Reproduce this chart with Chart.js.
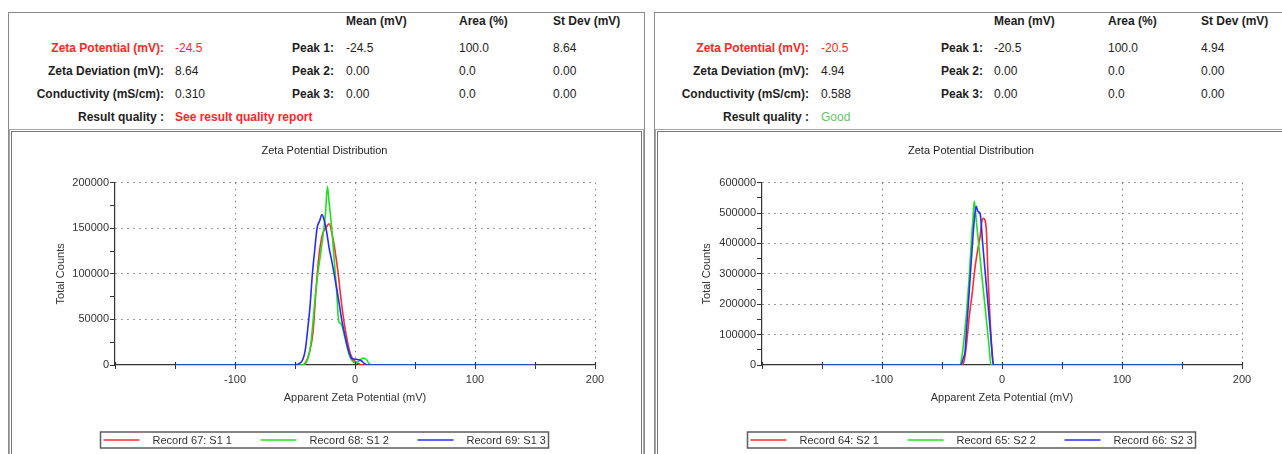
<!DOCTYPE html>
<html>
<head>
<meta charset="utf-8">
<title>Zeta Potential Distribution</title>
<script src="https://cdn.jsdelivr.net/npm/chart.js@4.4.1/dist/chart.umd.min.js"></script>
<style>
  html, body { margin: 0; padding: 0; background: #fff; width: 1282px; height: 454px; overflow: hidden;
               font-family: "Liberation Sans", Arial, sans-serif; }
  .panel { position: absolute; top: 12px; height: 470px; border: 1px solid #8a8a8a; box-sizing: border-box; }
  .frame { position: absolute; top: 129px; height: 360px; border: 1px solid #a6a6a6; box-sizing: border-box;
           box-shadow: inset 0 0 0 1px #fff, inset 0 0 0 2px #777; }
  .t { position: absolute; white-space: nowrap; font-size: 12px; line-height: 14px; color: #1e1e1e; }
  .b { font-weight: bold; }
  .red { color: #ff2626; }
  .good { color: #62c862; }
  canvas { position: absolute; }
</style>
</head>
<body>
<div class="panel" style="left:8px;width:637px;"></div>
<div class="panel" style="left:654px;width:700px;"></div>
<div class="frame" style="left:9px;width:635px;"></div>
<div class="frame" style="left:655px;width:700px;"></div>
<canvas id="c1" width="626" height="316" style="left:14px;top:136px;"></canvas>
<canvas id="c2" width="620" height="316" style="left:660px;top:136px;"></canvas>
<script>
// ---- result summary text ----
const summaryLabels = ['Zeta Potential (mV):', 'Zeta Deviation (mV):', 'Conductivity (mS/cm):', 'Result quality :'];
const peakLabels = ['Peak 1:', 'Peak 2:', 'Peak 3:'];
const columnHeads = ['Mean (mV)', 'Area (%)', 'St Dev (mV)'];

const s1Summary = ['-24.5', '8.64', '0.310', 'See result quality report'];
const s1PeakMean = ['-24.5', '0.00', '0.00'];
const s1PeakArea = ['100.0', '0.0', '0.0'];
const s1PeakSd = ['8.64', '0.00', '0.00'];

const s2Summary = ['-20.5', '4.94', '0.588', 'Good'];
const s2PeakMean = ['-20.5', '0.00', '0.00'];
const s2PeakArea = ['100.0', '0.0', '0.0'];
const s2PeakSd = ['4.94', '0.00', '0.00'];

// ---- sample S1 distributions (mV, total counts) ----
const s1Labels = ['Record 67: S1 1', 'Record 68: S1 2', 'Record 69: S1 3'];
const s1RedX = [-150, -44, -41, -38, -35, -32.5, -30, -27, -24, -21.5, -19, -16.5, -14, -12.5, -10, -8, -6, -4, -2, 0, 3, 6, 150];
const s1RedY = [0, 0, 3000, 14000, 36000, 82000, 120000, 144000, 151000, 155000, 143000, 124000, 100000, 82000, 55000, 38000, 24000, 13000, 7000, 4000, 1500, 0, 0];
const s1GreenX = [-150, -44, -40.5, -37.5, -35.5, -33.5, -31, -29, -26.5, -24.5, -23, -21.5, -19.5, -17.5, -15.5, -13.5, -11.5, -9.5, -7, -4.5, -2, 0, 2, 4, 7, 9.5, 11.5, 14, 150];
const s1GreenY = [0, 0, 3000, 16500, 40000, 70000, 100000, 119000, 144000, 168000, 196000, 177000, 152000, 118000, 85000, 48000, 45000, 36000, 22000, 10000, 4000, 2500, 3000, 5500, 7500, 6000, 2000, 0, 0];
const s1BlueX = [-150, -50, -46, -43.5, -41.5, -39.5, -37.5, -35.5, -33.5, -31.5, -29.5, -27.5, -25.5, -23.5, -21.5, -19.5, -17, -15, -13, -11, -9, -7, -5, -3, -1, 2, 5, 7.5, 10, 150];
const s1BlueY = [0, 0, 2000, 6000, 16000, 38000, 64000, 100000, 127000, 151000, 158000, 165000, 158000, 145000, 128000, 115000, 97000, 82000, 66000, 49000, 36000, 24000, 14000, 7500, 6500, 6000, 5000, 2000, 0, 0];

// ---- sample S2 distributions (mV, total counts) ----
const s2Labels = ['Record 64: S2 1', 'Record 65: S2 2', 'Record 66: S2 3'];
const s2RedX = [-150, -33, -31, -29, -27, -25, -22.5, -20, -18.3, -16.9, -15.6, -14, -13, -11.5, -10, -8.5, -7, 150];
const s2RedY = [0, 0, 25000, 90000, 170000, 230000, 320000, 385000, 422000, 470000, 483000, 475000, 440000, 280000, 155000, 55000, 0, 0];
const s2GreenX = [-150, -35, -33, -31, -29, -27, -25.3, -24, -23.1, -21, -19, -17, -15, -13, -11, -9.2, 150];
const s2GreenY = [0, 0, 40000, 110000, 200000, 310000, 422000, 490000, 540000, 458000, 380000, 302000, 225000, 148000, 70000, 0, 0];
const s2BlueX = [-150, -34.2, -33, -32, -30.8, -29.5, -28, -26, -24.2, -23, -21.5, -20, -18.3, -16, -14, -12, -10, -8.5, -7.2, 150];
const s2BlueY = [0, 0, 12000, 25000, 44000, 120000, 203000, 320000, 422000, 480000, 522000, 505000, 499000, 395000, 305000, 215000, 125000, 50000, 0, 0];

// ---- axis settings ----
const xMin = -200, xMax = 200, xMinorStep = 50, xMajorStep = 100;
const s1YMax = 200000, s1YMinor = 25000, s1YMajor = 50000;
const s2YMax = 600000, s2YMinor = 50000, s2YMajor = 100000;

const seriesColors = ['#ff2a2a', '#1fe01f', '#2a2aff'];
const FONT = '"Liberation Sans", Arial, sans-serif';

// ---- header tables ----
function addText(txt, cls, left, right, yc) {
  const s = document.createElement('span');
  s.className = 't ' + cls;
  s.textContent = txt;
  s.style.top = (yc - 7) + 'px';
  if (right != null) s.style.right = (1282 - right) + 'px';
  else s.style.left = left + 'px';
  document.body.appendChild(s);
}

function buildHeader(pos, summary, pMean, pArea, pSd, qualityCls) {
  const rows = [48, 71, 94, 117];
  const heads = [pos.mean, pos.area, pos.sd];
  columnHeads.forEach((h, i) => addText(h, 'b', heads[i], null, 21));
  summaryLabels.forEach((l, i) => {
    addText(l, 'b' + (i === 0 ? ' red' : ''), null, pos.labelRight, rows[i]);
    const cls = i === 0 ? 'red' : (i === 3 ? qualityCls : '');
    addText(summary[i], cls, pos.value, null, rows[i]);
  });
  peakLabels.forEach((l, i) => {
    addText(l, 'b', null, pos.peakRight, rows[i]);
    addText(pMean[i], '', pos.mean, null, rows[i]);
    addText(pArea[i], '', pos.area, null, rows[i]);
    addText(pSd[i], '', pos.sd, null, rows[i]);
  });
}

buildHeader({labelRight: 164, value: 175, peakRight: 334, mean: 346, area: 459, sd: 553},
            s1Summary, s1PeakMean, s1PeakArea, s1PeakSd, 'b red');
buildHeader({labelRight: 809, value: 821, peakRight: 983, mean: 994, area: 1108, sd: 1201},
            s2Summary, s2PeakMean, s2PeakArea, s2PeakSd, 'good');

// ---- framed legend drawn under the plot ----
const boxLegend = {
  id: 'boxLegend',
  afterDraw(chart, args, o) {
    const {ctx, chartArea} = chart;
    const x0 = chartArea.left + o.dx, y0 = chartArea.bottom + o.dy;
    ctx.save();
    ctx.strokeStyle = '#5c5c5c';
    ctx.lineWidth = 1.5;
    ctx.strokeRect(x0, y0, o.width, o.height);
    ctx.beginPath();
    ctx.rect(x0, y0, o.width, o.height);
    ctx.clip();
    ctx.font = '11px ' + FONT;
    ctx.textBaseline = 'middle';
    ctx.fillStyle = '#333';
    chart.data.datasets.forEach((ds, i) => {
      const ix = x0 + i * o.spacing;
      const cy = y0 + o.height / 2;
      ctx.strokeStyle = ds.borderColor;
      ctx.lineWidth = 1.5;
      ctx.beginPath();
      ctx.moveTo(ix + 3, cy);
      ctx.lineTo(ix + 39, cy);
      ctx.stroke();
      ctx.fillText(ds.label, ix + 52, cy + 0.5);
    });
    ctx.restore();
  }
};

// x-axis tick marks cross the axis line (drawn above it as well)
const crossTicks = {
  id: 'crossTicks',
  afterDatasetsDraw(chart) {
    const {ctx} = chart;
    const xs = chart.scales.x;
    const y = chart.chartArea.bottom;
    ctx.save();
    ctx.strokeStyle = '#333';
    ctx.lineWidth = 1.2;
    xs.ticks.forEach(t => {
      const px = Math.round(xs.getPixelForValue(t.value)) + 0.5;
      ctx.beginPath();
      ctx.moveTo(px, y - 3);
      ctx.lineTo(px, y);
      ctx.stroke();
    });
    ctx.restore();
  }
};

function series(label, xs, ys, color, order) {
  return {
    label,
    order,
    data: xs.map((x, i) => ({x, y: ys[i]})),
    borderColor: color,
    backgroundColor: color,
    borderWidth: 1.6,
    pointRadius: 0,
    fill: false,
    cubicInterpolationMode: 'monotone'
  };
}

function makeChart(id, datasets, yMax, yMinor, yMajor, padRight, yWidth) {
  return new Chart(document.getElementById(id), {
    type: 'line',
    data: {datasets},
    plugins: [boxLegend, crossTicks],
    options: {
      responsive: false,
      animation: false,
      devicePixelRatio: 1,
      layout: {padding: {left: 40, right: padRight, top: 0, bottom: 0}},
      plugins: {
        legend: {display: false},
        tooltip: {enabled: false},
        title: {
          display: true,
          text: 'Zeta Potential Distribution',
          color: '#222',
          font: {family: FONT, size: 11, weight: 'normal'},
          padding: {top: 8.4, bottom: 25.1}
        },
        boxLegend: {dx: -14.5, dy: 67, width: 448, height: 16, spacing: 157}
      },
      scales: {
        x: {
          type: 'linear',
          min: xMin, max: xMax,
          afterFit: s => { s.height = 87; },
          ticks: {
            stepSize: xMinorStep,
            autoSkip: false,
            maxRotation: 0,
            padding: 4,
            color: '#333',
            font: {family: FONT, size: 11},
            callback: v => (v % xMajorStep === 0 && v !== xMin) ? String(v) : ''
          },
          grid: {
            color: c => (c.tick && c.tick.value % xMajorStep === 0 && c.tick.value !== xMin) ? '#7a7a7a' : 'rgba(0,0,0,0)',
            tickColor: '#333',
            tickLength: 4,
            lineWidth: 1
          },
          border: {display: true, color: '#333', width: 1.2, dash: [1.5, 4.5]},
          title: {
            display: true,
            text: 'Apparent Zeta Potential (mV)',
            color: '#333',
            font: {family: FONT, size: 11},
            padding: {top: 0, bottom: 47.4}
          }
        },
        y: {
          type: 'linear',
          min: 0, max: yMax,
          afterFit: s => { s.width = yWidth; },
          ticks: {
            stepSize: yMinor,
            autoSkip: false,
            padding: 1,
            color: '#333',
            font: {family: FONT, size: 11},
            callback: v => (v % yMajor === 0) ? String(v) : ''
          },
          grid: {
            color: c => (c.tick && c.tick.value % yMajor === 0 && c.tick.value !== 0) ? '#7a7a7a' : 'rgba(0,0,0,0)',
            tickColor: '#333',
            tickLength: 5,
            lineWidth: 1
          },
          border: {display: true, color: '#333', width: 1.2, dash: [1.5, 4.5]},
          title: {
            display: true,
            text: 'Total Counts',
            color: '#333',
            font: {family: FONT, size: 11},
            padding: {top: 0, bottom: 0}
          }
        }
      }
    }
  });
}

// blue is drawn on top, red underneath
makeChart('c1', [
  series(s1Labels[0], s1RedX, s1RedY, seriesColors[0], 2),
  series(s1Labels[1], s1GreenX, s1GreenY, seriesColors[1], 1),
  series(s1Labels[2], s1BlueX, s1BlueY, seriesColors[2], 0)
], s1YMax, s1YMinor, s1YMajor, 45, 61);

makeChart('c2', [
  series(s2Labels[0], s2RedX, s2RedY, seriesColors[0], 2),
  series(s2Labels[1], s2GreenX, s2GreenY, seriesColors[1], 1),
  series(s2Labels[2], s2BlueX, s2BlueY, seriesColors[2], 0)
], s2YMax, s2YMinor, s2YMajor, 38, 62);
</script>
</body>
</html>
